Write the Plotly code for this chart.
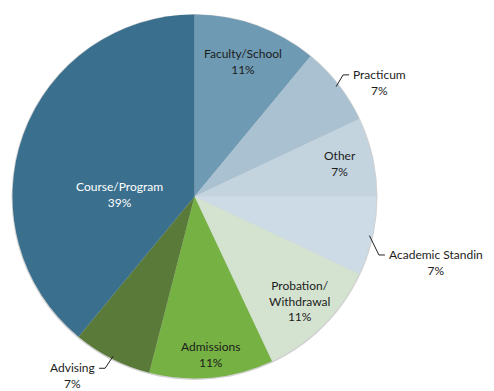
import math
import plotly.graph_objects as go

# Share of cases by category, clockwise from 12 o'clock
categories = ["Faculty/School", "Practicum", "Other", "Academic Standin",
              "Probation/<br>Withdrawal", "Admissions", "Advising", "Course/Program"]
shares = [11, 7, 7, 7, 11, 11, 7, 39]
colors = ["#6f9ab3", "#a9c1d0", "#c4d4df", "#ccdbe6",
          "#d4e3d0", "#76b243", "#5a7a3a", "#3a708e"]

W, H = 494, 391
CX, CY, R = 194.5, 196.5, 182.0

# Label placement: (radius fraction, angle offset from slice middle in degrees)
inside_pos = {
    "Faculty/School": (0.79, 0.0),
    "Other": (0.82, 0.0),
    "Probation/<br>Withdrawal": (0.815, 0.0),
    "Admissions": (0.87, -0.5),
    "Course/Program": (0.41, -18.0),
}
# Leader lines: side, elbow radius fraction, elbow angle offset
outside = {
    "Practicum": ("right", 1.055, -1.5),
    "Academic Standin": ("right", 1.063, 5.0),
    "Advising": ("left", 1.064, 0.5),
}


def px(x, y):
    return x / W, 1 - y / H


def polar(frac, ang):
    a = math.radians(ang)
    return CX + frac * R * math.sin(a), CY - frac * R * math.cos(a)


fig = go.Figure()
fig.add_trace(go.Pie(
    labels=categories, values=shares, sort=False, direction="clockwise",
    rotation=0, marker=dict(colors=colors, line=dict(width=0)),
    textinfo="none", hoverinfo="label+percent", showlegend=False,
    domain=dict(x=[(CX - R) / W, (CX + R) / W],
                y=[1 - (CY + R) / H, 1 - (CY - R) / H]),
))

total = sum(shares)
annotations, shapes = [], []
cum = 0.0
for cat, v in zip(categories, shares):
    mid = (cum + v / 2) / total * 360
    cum += v
    text = f"{cat}<br>{round(100 * v / total)}%"
    if cat in inside_pos:
        frac, off = inside_pos[cat]
        x, y = polar(frac, mid + off)
        ax, ay = px(x, y)
        annotations.append(dict(
            x=ax, y=ay, xref="paper", yref="paper", text=text, showarrow=False,
            xanchor="center", yanchor="middle", align="center",
            font=dict(size=12, color="white" if cat == "Course/Program" else "#1c1c1c")))
    else:
        side, efrac, eoff = outside[cat]
        x0, y0 = polar(0.985, mid)
        x1, y1 = polar(efrac, mid + eoff)
        sgn = 1 if side == "right" else -1
        x2 = x1 + 6 * sgn
        p0, p1, p2 = px(x0, y0), px(x1, y1), px(x2, y1)
        shapes.append(dict(
            type="path", xref="paper", yref="paper",
            path=f"M {p0[0]} {p0[1]} L {p1[0]} {p1[1]} L {p2[0]} {p2[1]}",
            line=dict(color="#222222", width=1)))
        ax, ay = px(x2 + 2 * sgn, y1 + 7.5)
        annotations.append(dict(
            x=ax, y=ay, xref="paper", yref="paper", text=text, showarrow=False,
            xanchor="left" if side == "right" else "right", yanchor="middle",
            align="center", font=dict(size=12, color="#1c1c1c")))

# soft edge under the pie
shapes.insert(0, dict(
    type="circle", xref="paper", yref="paper", layer="below",
    x0=(CX - R - 1) / W, x1=(CX + R + 1) / W,
    y0=1 - (CY + R + 1.5) / H, y1=1 - (CY - R - 0.5) / H,
    fillcolor="rgba(0,0,0,0.18)", line=dict(width=0)))

fig.update_layout(
    width=W, height=H, margin=dict(l=0, r=0, t=0, b=0),
    paper_bgcolor="white", plot_bgcolor="white",
    font=dict(family="Lato, 'Open Sans', sans-serif", size=12),
    annotations=annotations, shapes=shapes,
)

fig.write_html("out.html")
